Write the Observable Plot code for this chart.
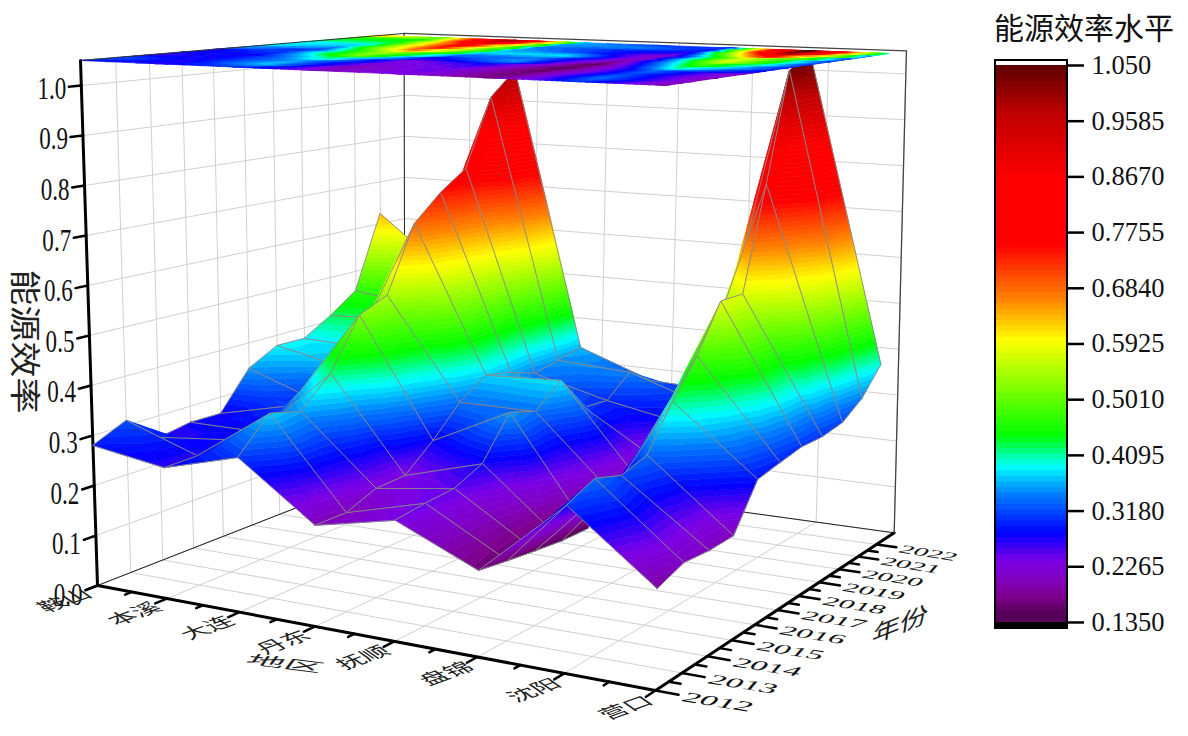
<!DOCTYPE html>
<html><head><meta charset="utf-8">
<script src="https://cdn.jsdelivr.net/npm/d3@7"></script>
<script src="https://cdn.jsdelivr.net/npm/@observablehq/plot@0.6"></script>
<style>body{margin:0;background:#fff}#w{position:relative;width:1188px;height:736px;overflow:hidden}#main{position:absolute;left:0;top:0}#bar{position:absolute;left:985px;top:0}#t{position:absolute;left:994px;top:4px;font:30px "Noto Sans CJK SC";color:#111;white-space:nowrap}svg{background:transparent!important}</style>
</head><body><div id="w"><div id="main"></div><div id="bar"></div><div id="t">能源效率水平</div></div>
<script>
const regions=["鞍山","本溪","大连","丹东","抚顺","盘锦","沈阳","营口"];
const years=[2012,2013,2014,2015,2016,2017,2018,2019,2020,2021,2022];
const anshan  =[0.280,0.310,0.255,0.266,0.265,0.344,0.377,0.376,0.412,0.455,0.624];
const benxi   =[0.257,0.259,0.270,0.265,0.300,0.290,0.345,0.370,0.420,0.430,0.500];
const dalian  =[0.298,0.363,0.347,0.405,0.508,0.534,0.674,0.730,0.773,0.925,0.980];
const dandong =[0.191,0.191,0.215,0.218,0.267,0.326,0.364,0.352,0.331,0.342,0.354];
const fushun  =[0.224,0.232,0.237,0.263,0.344,0.326,0.371,0.295,0.290,0.333,0.296];
const panjin  =[0.157,0.149,0.142,0.136,0.135,0.180,0.190,0.200,0.260,0.280,0.290];
const shenyang=[0.298,0.323,0.306,0.322,0.404,0.474,0.567,0.566,0.781,1.013,1.050];
const yingkou =[0.177,0.196,0.192,0.194,0.276,0.286,0.295,0.294,0.302,0.332,0.385];
const series=[anshan,benxi,dalian,dandong,fushun,panjin,shenyang,yingkou];
const zTicks=[0,.1,.2,.3,.4,.5,.6,.7,.8,.9,1];
const legendTicks=[1.05,.9585,.867,.7755,.684,.5925,.501,.4095,.318,.2265,.135];
const colorStops=[.135,.165,.2,.2265,.27,.335,.38,.43,.587,.656,.745,.85,.9585,1.05];
const colorRange=["#500050","#7d008c","#8000c8","#7a00e8","#0000ff","#0080ff","#00ffff","#00ff00","#ffff00","#ff8000","#ff0000","#ff0000","#c00000","#500000"];
const zMin=.135,zMax=1.05,bandStep=.00915;
const serif='"Liberation Serif",serif',cjk='"Noto Sans CJK SC",sans-serif';

function hom(p){const [p0,p1,p2,p3]=p;const dx1=p1[0]-p2[0],dx2=p3[0]-p2[0],sx=p0[0]-p1[0]+p2[0]-p3[0],dy1=p1[1]-p2[1],dy2=p3[1]-p2[1],sy=p0[1]-p1[1]+p2[1]-p3[1];const det=dx1*dy2-dx2*dy1,g=(sx*dy2-dx2*sy)/det,h=(dx1*sy-sx*dy1)/det,a=p1[0]-p0[0]+g*p1[0],b=p3[0]-p0[0]+h*p3[0],d=p1[1]-p0[1]+g*p1[1],e=p3[1]-p0[1]+h*p3[1];return (u,v)=>{const w=g*u+h*v+1;return [(a*u+b*v+p0[0])/w,(d*u+e*v+p0[1])/w];};}
const H0=hom([[97,585],[655,690],[876,544],[381,474]]),H1=hom([[80,60],[665,85],[888,53],[379,35]]);
function P(u,v,z){const a=H0(u,v),b=H1(u,v),t=z/zMax;return [a[0]+(b[0]-a[0])*t,a[1]+(b[1]-a[1])*t];}
const nU=regions.length-1,nV=years.length-1,vEnd=1.1;

function clip(poly,lim,keepAbove){const out=[];for(let i=0;i<poly.length;i++){const a=poly[i],b=poly[(i+1)%poly.length];const ina=keepAbove?a[2]>=lim:a[2]<=lim,inb=keepAbove?b[2]>=lim:b[2]<=lim;if(ina)out.push(a);if(ina!==inb){const t=(lim-a[2])/(b[2]-a[2]);out.push([a[0]+(b[0]-a[0])*t,a[1]+(b[1]-a[1])*t,lim]);}}return out;}
let pid=0;
function bands(tri,flat){const rows=[];const zs=tri.map(d=>d[2]);const k0=Math.floor((Math.min(...zs)-zMin)/bandStep),k1=Math.floor((Math.max(...zs)-zMin)/bandStep);for(let k=k0;k<=k1;k++){const lo=zMin+k*bandStep,hi=lo+bandStep;let p=clip(clip(tri,lo,true),hi,false);if(p.length<3)continue;pid++;for(const d of p){const q=flat?P(d[0],d[1],zMax):P(d[0],d[1],d[2]);rows.push({id:pid,x:q[0],y:q[1],band:lo+bandStep/2});}}return rows;}
function cellTris(i,j){const c=(a,b)=>[a/nU,b/nV,series[a][b]];const A=c(i,j),B=c(i+1,j),C=c(i+1,j+1),D=c(i,j+1);const M=[(A[0]+C[0])/2,(A[1]+C[1])/2,(A[2]+B[2]+C[2]+D[2])/4];return [[D,A,M],[C,D,M],[A,B,M],[B,C,M]];}
const poly=(rows,extra={})=>Plot.line(rows,{x:"x",y:"y",z:"id",fill:"band",stroke:"band",strokeWidth:.7,curve:"linear-closed",...extra});
const surfaceMarks=[];
for(let i=0;i<nU;i++)for(let j=nV-1;j>=0;j--){
  let rows=[];for(const t of cellTris(i,j))rows=rows.concat(bands(t,false));
  surfaceMarks.push(poly(rows));
  const outline=[[i,j],[i+1,j],[i+1,j+1],[i,j+1]].map(([a,b])=>{const q=P(a/nU,b/nV,series[a][b]);return {x:q[0],y:q[1]};});
  surfaceMarks.push(Plot.line(outline,{x:"x",y:"y",stroke:"#8a8a8a",strokeWidth:.9,curve:"linear-closed"}));
}
let planeRows=[];for(let i=0;i<nU;i++)for(let j=nV-1;j>=0;j--)for(const t of cellTris(i,j))planeRows=planeRows.concat(bands(t,true));

const seg=(a,b,o)=>Plot.line([a,b].map(q=>({x:q[0],y:q[1]})),{x:"x",y:"y",...o});
const grid={stroke:"#d0d0d0",strokeWidth:1};
const gridMarks=[];
const uMaj=regions.map((_,i)=>i/nU),vYears=years.map((_,j)=>j/nV);
for(const u of uMaj){gridMarks.push(seg(P(u,0,0),P(u,vEnd,0),grid));gridMarks.push(seg(P(u,vEnd,0),P(u,vEnd,zMax),grid));}
for(const v of vYears){gridMarks.push(seg(P(0,v,0),P(1,v,0),grid));gridMarks.push(seg(P(0,v,0),P(0,v,zMax),grid));}
for(const z of zTicks){gridMarks.push(seg(P(0,0,z),P(0,vEnd,z),grid));gridMarks.push(seg(P(0,vEnd,z),P(1,vEnd,z),grid));}
const thin={stroke:"#222",strokeWidth:1};
const boxMarks=[seg(P(0,vEnd,0),P(1,vEnd,0),thin),seg(P(0,0,0),P(0,vEnd,0),thin),seg(P(0,vEnd,0),P(0,vEnd,zMax),thin),seg(P(1,vEnd,0),P(1,vEnd,zMax),{stroke:"#444",strokeWidth:1.3}),seg(P(0,vEnd,zMax),P(1,vEnd,zMax),{stroke:"#444",strokeWidth:1.3}),seg(P(0,0,zMax),P(0,vEnd,zMax),{stroke:"#333",strokeWidth:1})];
const thick={stroke:"#000",strokeWidth:3};
const axisMarks=[seg(P(0,0,0),P(1,0,0),thick),seg(P(1,0,0),P(1,vEnd,0),thick),seg(P(0,0,0),P(0,0,zMax),thick)];
for(let i=0;i<=2*nU;i++){const u=i/(2*nU),maj=i%2==0;axisMarks.push(seg(P(u,0,0),P(u,maj?-.035:-.02,0),{stroke:"#000",strokeWidth:2.5}));}
for(let j=0;j<=2*nV;j++){const v=j/(2*nV),maj=j%2==0;axisMarks.push(seg(P(1,v,0),P(maj?1.035:1.018,v,0),{stroke:"#000",strokeWidth:2.5}));}
for(const z of zTicks)axisMarks.push(seg(P(0,0,z),P(0,-.035,z),{stroke:"#000",strokeWidth:2.5}));

const zLab=zTicks.map(z=>{const q=P(0,0,z);return {x:q[0],y:q[1]+9-6*z,t:z.toFixed(1)};});
const uLab=regions.map((r,i)=>{const q=P(i/nU,-.05,0);return {x:q[0],y:q[1],t:r};});
const vLab=years.map((r,j)=>{const q=P(1.05,j/nV,0);return {x:q[0],y:q[1],t:String(r),s:29-.5*j};});
const titleU=[{x:P(.34,-.2,0)[0],y:P(.34,-.2,0)[1],t:"地区"}];
const titleV=[{x:P(1.24,.56,0)[0],y:P(1.24,.56,0)[1],t:"年份"}];
const titleZ=[{x:P(0,-.24,.5)[0],y:P(0,-.24,.5)[1],t:"能源效率"}];
const textMarks=[
 Plot.text(zLab,{x:"x",y:"y",text:"t",dx:-15,textAnchor:"end",fontSize:32,fontFamily:serif,fill:"#111",className:"zl"}),
 Plot.text(uLab,{x:"x",y:"y",text:"t",dx:8,textAnchor:"end",rotate:-20,fontSize:25,fontFamily:cjk,fill:"#222",className:"ul"}),
 Plot.text(vLab,{x:"x",y:"y",text:"t",dx:-5,textAnchor:"start",rotate:9,fontSize:"s",fontFamily:serif,fill:"#111",className:"vl"}),
 Plot.text(titleU,{x:"x",y:"y",text:"t",dx:84,dy:16,rotate:7,fontSize:38,fontFamily:cjk,fill:"#222",className:"tu"}),
 Plot.text(titleV,{x:"x",y:"y",text:"t",dx:-40,dy:0,rotate:-22,fontSize:30,fontFamily:cjk,fill:"#222",className:"tv"}),
 Plot.text(titleZ,{x:"x",y:"y",text:"t",dx:22,dy:-15,rotate:90,fontSize:36,fontFamily:cjk,fill:"#222",className:"tz"})
];
const main=Plot.plot({width:1188,height:736,margin:0,
 x:{domain:[0,1188],range:[0,1188],axis:null},y:{domain:[0,736],range:[0,736],axis:null},
 color:{type:"linear",domain:colorStops,range:colorRange,interpolate:"rgb",clamp:true},
 marks:[...gridMarks,...boxMarks.slice(0,3),...axisMarks,...surfaceMarks,poly(planeRows),...boxMarks.slice(3),...textMarks]});
document.getElementById("main").append(main);
const shape=(cls,extra)=>main.querySelectorAll("."+cls+" text").forEach(e=>{e.setAttribute("transform",(e.getAttribute("transform")||"")+" "+extra);});
shape("zl","scale(.72,1)");
shape("ul","skewX(35) scale(1,.65)");
shape("vl","skewX(-32) scale(1.2,.5)");
shape("tu","skewX(-30) scale(1,.35)");
shape("tv","skewX(-30) scale(1,.7)");
shape("tz","scale(1,.85)");

const levels=d3.range(0,100).map(k=>zMin+k*bandStep);
const capLow=.1251,capHigh=1.0582;
const bar=Plot.plot({width:203,height:736,marginLeft:10,marginRight:121,marginTop:0,marginBottom:0,
 x:{domain:[0,1],axis:null},y:{domain:[capLow,capHigh],range:[628,60],axis:null},
 color:{type:"linear",domain:colorStops,range:colorRange,interpolate:"rgb",clamp:true},
 marks:[
  Plot.rect(levels,{x1:0,x2:1,y1:d=>d,y2:d=>Math.min(d+2.2*bandStep,zMax),fill:d=>d+bandStep/2,inset:0}),
  Plot.rect([capLow],{x1:0,x2:1,y1:capLow,y2:zMin,fill:"#000"}),
  Plot.rect([capHigh],{x1:0,x2:1,y1:zMax,y2:capHigh,fill:"#fff"}),
  Plot.rect([0],{x1:0,x2:1,y1:capLow,y2:capHigh,fill:"none",stroke:"#000",strokeWidth:2}),
  Plot.axisY({anchor:"right",ticks:legendTicks,tickSize:16,tickPadding:8,strokeWidth:2.5,fontSize:26.5,fontFamily:serif,fill:"#111",label:null,
   tickFormat:d=>d===1.05?"1.050":d3.format(".4f")(d)})
 ]});
// paint the colour levels from the top down so each one's overlap is covered by the next
const levelRects=bar.querySelector("g[aria-label='rect']");
if(levelRects){const kids=[...levelRects.children];kids.reverse().forEach(k=>levelRects.append(k));}
document.getElementById("bar").append(bar);
</script></body></html>
